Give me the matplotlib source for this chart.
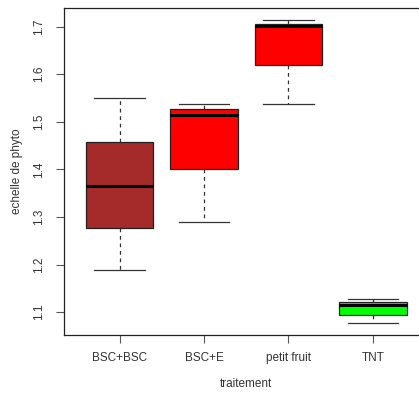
import matplotlib
matplotlib.use("Agg")
import matplotlib.pyplot as plt

categories = ["BSC+BSC", "BSC+E", "petit fruit", "TNT"]
whisker_low = [1.189, 1.289, 1.538, 1.077]
q1 = [1.276, 1.401, 1.619, 1.094]
medians = [1.364, 1.514, 1.701, 1.115]
q3 = [1.457, 1.526, 1.706, 1.121]
whisker_high = [1.550, 1.538, 1.713, 1.128]
colors = ["#A52A2A", "#FF0000", "#FF0000", "#00FF00"]
yticks = [1.1, 1.2, 1.3, 1.4, 1.5, 1.6, 1.7]

plt.rcParams['font.family'] = ['Liberation Sans', 'DejaVu Sans']
fig = plt.figure(figsize=(4.19, 3.94), dpi=100)
ax = fig.add_axes([64/419, 1-335/394, 0.870, (335-8)/394])

stats = []
for i, c in enumerate(categories):
    stats.append(dict(label=c, whislo=whisker_low[i], q1=q1[i], med=medians[i],
                      q3=q3[i], whishi=whisker_high[i], fliers=[]))
bp = ax.bxp(stats, positions=[1, 2, 3, 4], widths=0.8, patch_artist=True,
            showfliers=False,
            boxprops=dict(edgecolor="#222222", linewidth=0.9),
            medianprops=dict(color="black", linewidth=2.2),
            whiskerprops=dict(color="#333333", linewidth=0.9, linestyle=(0, (3, 3))),
            capprops=dict(color="#333333", linewidth=0.9))
for patch, col in zip(bp['boxes'], colors):
    patch.set_facecolor(col)
for cap in bp['caps']:
    x0, x1 = cap.get_xdata()
    m = (x0 + x1) / 2
    cap.set_xdata([m - 0.3, m + 0.3])

ax.set_xlim(0.34, 4.66)
ax.set_ylim(1.052, 1.739)
ax.set_yticks(yticks)
ax.set_yticklabels([f"{v:.1f}" for v in yticks], rotation=90, va="center", fontsize=8.5, color="#333333")
ax.set_xticks([1, 2, 3, 4])
ax.set_xticklabels(categories, fontsize=8.5, color="#333333")
ax.tick_params(axis="x", length=6, width=0.8, color="#555555", pad=6)
ax.tick_params(axis="y", length=6, width=0.8, color="#555555", pad=8)
for s in ax.spines.values():
    s.set_color("#222222")
    s.set_linewidth(0.9)
ax.set_xlabel("traitement", fontsize=8.5, color="#333333", labelpad=10)
ax.set_ylabel("echelle de phyto", fontsize=8.5, color="#333333", labelpad=7)

fig.savefig("out.png", dpi=100)
